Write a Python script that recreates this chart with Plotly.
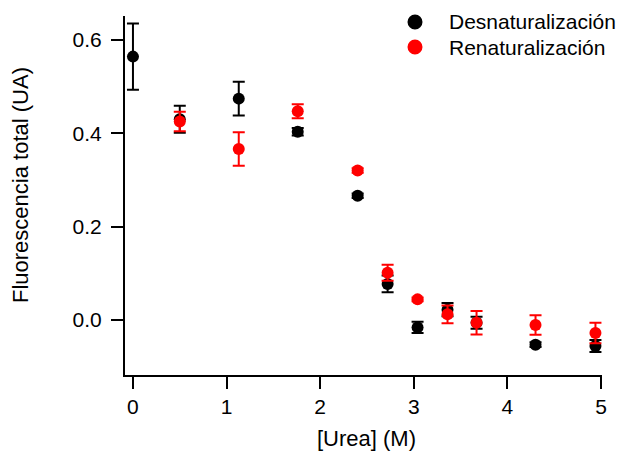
import plotly.graph_objects as go

# ---- data ----
urea_des = [0.0, 0.50, 1.13, 1.76, 2.40, 2.72, 3.04, 3.36, 3.67, 4.30, 4.94]
fluo_des = [0.564, 0.430, 0.474, 0.403, 0.266, 0.077, -0.016, 0.022, -0.006, -0.053, -0.056]
err_des = [0.071, 0.029, 0.036, 0.008, 0.005, 0.018, 0.012, 0.014, 0.013, 0.005, 0.013]

urea_ren = [0.50, 1.13, 1.76, 2.40, 2.72, 3.04, 3.36, 3.67, 4.30, 4.94]
fluo_ren = [0.425, 0.366, 0.447, 0.320, 0.101, 0.044, 0.012, -0.006, -0.011, -0.028]
err_ren = [0.021, 0.036, 0.015, 0.005, 0.017, 0.004, 0.019, 0.025, 0.021, 0.022]

name_des = "Desnaturalización"
name_ren = "Renaturalización"
x_title = "[Urea] (M)"
y_title = "Fluorescencia total (UA)"
x_ticks = [0, 1, 2, 3, 4, 5]
y_ticks = [0.0, 0.2, 0.4, 0.6]

FONT = "Liberation Sans, Arial, sans-serif"
RED = "#ff0000"

fig = go.Figure()
for xs, ys, es, col, nm in [
    (urea_des, fluo_des, err_des, "black", name_des),
    (urea_ren, fluo_ren, err_ren, RED, name_ren),
]:
    fig.add_trace(go.Scatter(
        x=xs, y=ys, mode="markers", name=nm, showlegend=False,
        marker=dict(color=col, size=12, line=dict(width=0)),
        error_y=dict(type="data", array=es, visible=True, color=col,
                     thickness=2, width=6),
    ))

# ---- legend (symbol + real text), placed in paper coordinates ----
L, R, T, B = 125, 27, 16, 76
PW, PH = 629 - L - R, 451 - T - B


def px2paper(px, py):
    return (px - L) / PW, (451 - B - py) / PH


shapes = []
annotations = []
for col, nm, row_y in [("black", name_des, 22), (RED, name_ren, 47)]:
    mx, my = px2paper(415, row_y)
    shapes.append(dict(type="circle", xref="paper", yref="paper",
                       xsizemode="pixel", ysizemode="pixel",
                       xanchor=mx, yanchor=my, x0=-7.5, x1=7.5, y0=-7.5, y1=7.5,
                       fillcolor=col, line=dict(width=0)))
    tx, ty = px2paper(447, row_y)
    annotations.append(dict(text=nm, xref="paper", yref="paper", x=tx, y=ty,
                            xanchor="left", yanchor="middle", showarrow=False,
                            font=dict(size=21)))

ax_x, ax_y = px2paper(366, 438)
annotations.append(dict(text=x_title, xref="paper", yref="paper", x=ax_x, y=ax_y,
                        xanchor="center", yanchor="middle", showarrow=False,
                        font=dict(size=22)))
ay_x, ay_y = px2paper(20, 185)
annotations.append(dict(text=y_title, xref="paper", yref="paper", x=ay_x, y=ay_y,
                        xanchor="center", yanchor="middle", showarrow=False,
                        textangle=-90, font=dict(size=22)))

fig.update_layout(
    width=629, height=451,
    margin=dict(l=L, r=R, t=T, b=B, autoexpand=False),
    paper_bgcolor="white", plot_bgcolor="white",
    font=dict(family=FONT, size=21, color="black"),
    showlegend=False,
    xaxis=dict(range=[-0.085, 5.01], tickvals=x_ticks,
               ticks="outside", ticklen=12, tickwidth=2, tickcolor="black",
               showline=True, linecolor="black", linewidth=2,
               showgrid=False, zeroline=False, mirror=False),
    yaxis=dict(range=[-0.118, 0.651], tickvals=y_ticks, tickformat=".1f",
               ticks="outside", ticklen=12, tickwidth=2, tickcolor="black",
               showline=True, linecolor="black", linewidth=2,
               showgrid=False, zeroline=False, mirror=False,
               ticklabelstandoff=5),
    shapes=shapes,
    annotations=annotations,
)

fig.write_html("out.html")
